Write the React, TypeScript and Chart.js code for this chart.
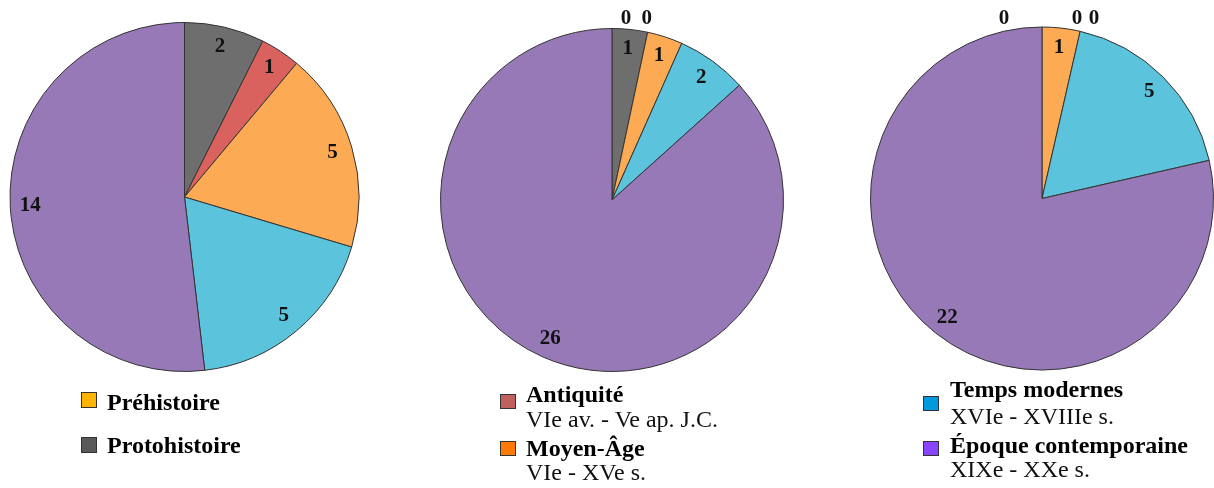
import React, { useEffect, useRef } from "react";
import { Chart, registerables } from "chart.js";

Chart.register(...registerables);

// ---- data ----
const categories = [
  "Préhistoire",
  "Protohistoire",
  "Antiquité",
  "Moyen-Âge",
  "Temps modernes",
  "Époque contemporaine",
];
const periods = ["", "", "VIe av. - Ve ap. J.C.", "VIe - XVe s.", "XVIe - XVIIIe s.", "XIXe - XXe s."];
const valuesA: (number | null)[] = [null, 2, 1, 5, 5, 14];
const valuesB: (number | null)[] = [0, 1, 0, 1, 2, 26];
const valuesC: (number | null)[] = [0, 0, 0, 1, 5, 22];

// ---- styles ----
const sliceColors = ["#F9C45A", "#6E6E6E", "#D9625E", "#FDAA55", "#5BC4DC", "#9779B8"];
const legendColors = ["#FFB300", "#595959", "#C0605F", "#FF7A00", "#0099DD", "#8844FF"];
const FONT = '"Liberation Serif", "Times New Roman", Times, serif';

const pieLabelPlugin = {
  id: "pieLabels",
  afterDatasetsDraw(chart: any, _args: any, opts: any) {
    const ctx = chart.ctx;
    const meta = chart.getDatasetMeta(0);
    const data = chart.data.datasets[0].data;
    const shifts = (opts && opts.zeroShift) || [];
    let zi = 0;
    ctx.save();
    ctx.font = `bold 21px ${FONT}`;
    ctx.fillStyle = "#111";
    ctx.textAlign = "center";
    ctx.textBaseline = "middle";
    meta.data.forEach((arc: any, i: number) => {
      const v = data[i];
      if (v === null || v === undefined) return;
      const p = arc.getProps(["x", "y", "startAngle", "endAngle", "outerRadius"], true);
      const mid = (p.startAngle + p.endAngle) / 2;
      let rr: number;
      let dx = 0;
      let dy = 0;
      if (v === 0) {
        rr = p.outerRadius + 10;
        const s = shifts[zi++] || [0, 0];
        dx = s[0];
        dy = s[1];
      } else {
        rr = p.outerRadius * 0.885;
      }
      ctx.fillText(String(v), p.x + Math.cos(mid) * rr + dx, p.y + Math.sin(mid) * rr + dy);
    });
    ctx.restore();
  },
};

type PieProps = {
  values: (number | null)[];
  left: number;
  width: number;
  padding: { left: number; right: number; top: number; bottom: number };
  zeroShift: number[][];
};

function Pie({ values, left, width, padding, zeroShift }: PieProps) {
  const ref = useRef<HTMLCanvasElement>(null);
  useEffect(() => {
    if (!ref.current) return;
    const chart = new Chart(ref.current, {
      type: "pie",
      data: {
        labels: categories,
        datasets: [
          {
            data: values as any,
            backgroundColor: sliceColors,
            borderColor: "#333333",
            borderWidth: 1,
          },
        ],
      },
      options: {
        responsive: false,
        animation: false,
        layout: { padding },
        plugins: {
          legend: { display: false },
          tooltip: { enabled: false },
          pieLabels: { zeroShift },
        } as any,
      },
      plugins: [pieLabelPlugin],
    });
    return () => chart.destroy();
  }, []);
  return (
    <canvas
      ref={ref}
      width={width}
      height={488}
      style={{ position: "absolute", left, top: 0, width, height: 488 }}
    />
  );
}

type LegendPos = { idx: number; boxX: number; boxY: number; boxH: number; textX: number; base: number; subBase?: number };

const legendLayout: LegendPos[] = [
  { idx: 0, boxX: 81, boxY: 392, boxH: 16, textX: 107, base: 410 },
  { idx: 1, boxX: 81, boxY: 437, boxH: 16, textX: 107, base: 453 },
  { idx: 2, boxX: 500, boxY: 394, boxH: 15, textX: 526, base: 402, subBase: 427 },
  { idx: 3, boxX: 500, boxY: 441, boxH: 15, textX: 526, base: 456, subBase: 480 },
  { idx: 4, boxX: 923, boxY: 396, boxH: 15, textX: 950, base: 397, subBase: 424 },
  { idx: 5, boxX: 923, boxY: 441, boxH: 15, textX: 950, base: 453, subBase: 477 },
];

const ASC = 20.1; // baseline offset for 24px line-height

function Legend() {
  return (
    <>
      {legendLayout.map((l) => (
        <React.Fragment key={l.idx}>
          <div
            style={{
              position: "absolute",
              left: l.boxX,
              top: l.boxY,
              width: 16,
              height: l.boxH,
              boxSizing: "border-box",
              border: "1px solid #333",
              background: legendColors[l.idx],
            }}
          />
          <div
            style={{
              position: "absolute",
              left: l.textX,
              top: l.base - ASC,
              font: `bold 24px ${FONT}`,
              lineHeight: "24px",
              whiteSpace: "nowrap",
              color: "#000",
            }}
          >
            {categories[l.idx]}
          </div>
          {l.subBase !== undefined && (
            <div
              style={{
                position: "absolute",
                left: l.textX,
                top: l.subBase - ASC,
                font: `24px ${FONT}`,
                lineHeight: "24px",
                whiteSpace: "nowrap",
                color: "#111",
              }}
            >
              {periods[l.idx]}
            </div>
          )}
        </React.Fragment>
      ))}
    </>
  );
}

export default function App() {
  return (
    <div
      style={{
        position: "fixed",
        left: 0,
        top: 0,
        width: 1214,
        height: 488,
        background: "#fff",
        overflow: "hidden",
      }}
    >
      <Pie
        values={valuesA}
        left={0}
        width={400}
        padding={{ left: 9.5, right: 40.5, top: 22, bottom: 116 }}
        zeroShift={[]}
      />
      <Pie
        values={valuesB}
        left={410}
        width={400}
        padding={{ left: 30, right: 26, top: 28, bottom: 116 }}
        zeroShift={[
          [14, 0],
          [-3, -3.5],
        ]}
      />
      <Pie
        values={valuesC}
        left={814}
        width={400}
        padding={{ left: 56, right: 0, top: 26.5, bottom: 117.5 }}
        zeroShift={[
          [-38, 2],
          [35, 2],
          [52, 2],
        ]}
      />
      <Legend />
    </div>
  );
}
